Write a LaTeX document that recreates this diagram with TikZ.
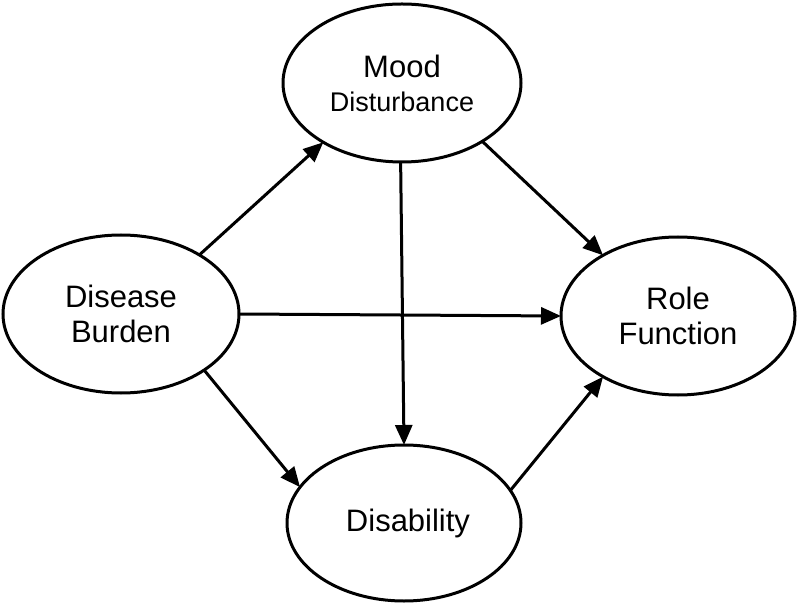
\documentclass[tikz,border=0pt]{standalone}
\usepackage{fontspec}
\setmainfont{Liberation Sans}
\usetikzlibrary{arrows.meta,shapes.geometric}
\begin{document}
\begin{tikzpicture}[x=1pt,y=-1pt,
  oval/.style={draw, ellipse, line width=3pt, inner sep=0pt, outer sep=0pt,
    minimum width=236pt, minimum height=158pt, align=center,
    font=\fontsize{31}{35}\selectfont},
  link/.style={line width=3pt, -{Triangle[length=20pt,width=17pt]}}]
\useasboundingbox (0,0) rectangle (800,609);
\node[oval, minimum width=238pt] (mood) at (402,83) {Mood\\[-1pt]{\fontsize{27}{32}\selectfont Disturbance}};
\node[oval] (dis) at (121,314) {Disease\\Burden};
\node[oval, minimum width=234pt] (role) at (678,316) {Role\\Function};
\node[oval, minimum width=234pt, minimum height=156pt] (disab) at (404,523) {\hspace{8pt}Disability};
\draw[link] (dis.37) -- (mood.217);
\draw[link] (dis.0) -- (role.180);
\draw[link] (dis.-34) -- (disab.161);
\draw[link] (mood.-36) -- (role.141);
\draw[link] (mood.-91) -- (disab.90);
\draw[link] (disab.17) -- (role.-141);
\end{tikzpicture}
\end{document}
